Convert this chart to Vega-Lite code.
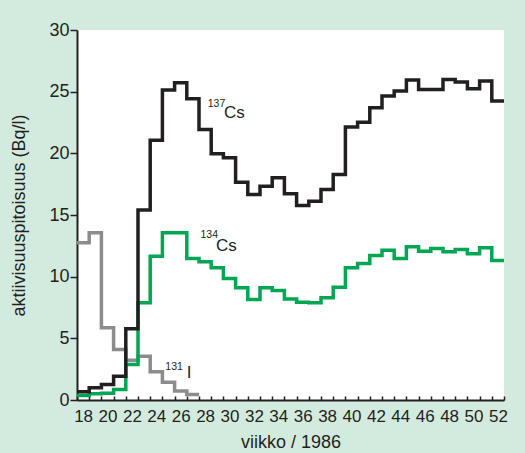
{
  "$schema": "https://vega.github.io/schema/vega-lite/v6.json",
  "width": 427,
  "height": 370,
  "autosize": {"type": "none"},
  "padding": {"left": 77, "top": 30, "right": 21, "bottom": 53},
  "background": "#d3ebde",
  "config": {"view": {"fill": "white", "stroke": null}, "font": "Liberation Sans", "axis": {"labelOverlap": false}},
  "datasets": {
    "series": [
      {"series": "I131", "week": 17.5, "value": 12.75},
      {"series": "I131", "week": 18, "value": 12.75},
      {"series": "I131", "week": 19, "value": 13.56},
      {"series": "I131", "week": 20, "value": 5.86},
      {"series": "I131", "week": 21, "value": 4.1},
      {"series": "I131", "week": 22, "value": 3.23},
      {"series": "I131", "week": 23, "value": 3.55},
      {"series": "I131", "week": 24, "value": 2.29},
      {"series": "I131", "week": 25, "value": 1.44},
      {"series": "I131", "week": 26, "value": 0.72},
      {"series": "I131", "week": 27, "value": 0.45},
      {"series": "I131", "week": 27.5, "value": 0.45},
      {"series": "Cs134", "week": 17.5, "value": 0.36},
      {"series": "Cs134", "week": 18, "value": 0.36},
      {"series": "Cs134", "week": 19, "value": 0.5},
      {"series": "Cs134", "week": 20, "value": 0.55},
      {"series": "Cs134", "week": 21, "value": 0.85},
      {"series": "Cs134", "week": 22, "value": 2.88},
      {"series": "Cs134", "week": 23, "value": 7.88},
      {"series": "Cs134", "week": 24, "value": 11.66},
      {"series": "Cs134", "week": 25, "value": 13.56},
      {"series": "Cs134", "week": 26, "value": 13.56},
      {"series": "Cs134", "week": 27, "value": 11.48},
      {"series": "Cs134", "week": 28, "value": 11.21},
      {"series": "Cs134", "week": 29, "value": 10.72},
      {"series": "Cs134", "week": 30, "value": 9.85},
      {"series": "Cs134", "week": 31, "value": 9.1},
      {"series": "Cs134", "week": 32, "value": 8.15},
      {"series": "Cs134", "week": 33, "value": 9.1},
      {"series": "Cs134", "week": 34, "value": 8.87},
      {"series": "Cs134", "week": 35, "value": 8.18},
      {"series": "Cs134", "week": 36, "value": 7.92},
      {"series": "Cs134", "week": 37, "value": 7.88},
      {"series": "Cs134", "week": 38, "value": 8.29},
      {"series": "Cs134", "week": 39, "value": 9.15},
      {"series": "Cs134", "week": 40, "value": 10.72},
      {"series": "Cs134", "week": 41, "value": 11.07},
      {"series": "Cs134", "week": 42, "value": 11.72},
      {"series": "Cs134", "week": 43, "value": 12.15},
      {"series": "Cs134", "week": 44, "value": 11.48},
      {"series": "Cs134", "week": 45, "value": 12.42},
      {"series": "Cs134", "week": 46, "value": 12.07},
      {"series": "Cs134", "week": 47, "value": 12.29},
      {"series": "Cs134", "week": 48, "value": 12.02},
      {"series": "Cs134", "week": 49, "value": 12.2},
      {"series": "Cs134", "week": 50, "value": 11.86},
      {"series": "Cs134", "week": 51, "value": 12.34},
      {"series": "Cs134", "week": 52, "value": 11.31},
      {"series": "Cs134", "week": 52.5, "value": 11.31},
      {"series": "Cs137", "week": 17.5, "value": 0.66},
      {"series": "Cs137", "week": 18, "value": 0.66},
      {"series": "Cs137", "week": 19, "value": 0.99},
      {"series": "Cs137", "week": 20, "value": 1.26},
      {"series": "Cs137", "week": 21, "value": 1.93},
      {"series": "Cs137", "week": 22, "value": 5.77},
      {"series": "Cs137", "week": 23, "value": 15.4},
      {"series": "Cs137", "week": 24, "value": 21.07},
      {"series": "Cs137", "week": 25, "value": 25.13},
      {"series": "Cs137", "week": 26, "value": 25.72},
      {"series": "Cs137", "week": 27, "value": 24.43},
      {"series": "Cs137", "week": 28, "value": 21.94},
      {"series": "Cs137", "week": 29, "value": 19.97},
      {"series": "Cs137", "week": 30, "value": 19.64},
      {"series": "Cs137", "week": 31, "value": 17.66},
      {"series": "Cs137", "week": 32, "value": 16.67},
      {"series": "Cs137", "week": 33, "value": 17.34},
      {"series": "Cs137", "week": 34, "value": 18.02},
      {"series": "Cs137", "week": 35, "value": 16.72},
      {"series": "Cs137", "week": 36, "value": 15.77},
      {"series": "Cs137", "week": 37, "value": 16.12},
      {"series": "Cs137", "week": 38, "value": 17.07},
      {"series": "Cs137", "week": 39, "value": 18.29},
      {"series": "Cs137", "week": 40, "value": 22.13},
      {"series": "Cs137", "week": 41, "value": 22.53},
      {"series": "Cs137", "week": 42, "value": 23.7},
      {"series": "Cs137", "week": 43, "value": 24.64},
      {"series": "Cs137", "week": 44, "value": 25.05},
      {"series": "Cs137", "week": 45, "value": 25.94},
      {"series": "Cs137", "week": 46, "value": 25.18},
      {"series": "Cs137", "week": 47, "value": 25.18},
      {"series": "Cs137", "week": 48, "value": 25.99},
      {"series": "Cs137", "week": 49, "value": 25.78},
      {"series": "Cs137", "week": 50, "value": 25.24},
      {"series": "Cs137", "week": 51, "value": 25.86},
      {"series": "Cs137", "week": 52, "value": 24.24},
      {"series": "Cs137", "week": 52.5, "value": 24.24}
    ],
    "supers": [
      {"week": 28.22, "value": 23.73, "label": "137"},
      {"week": 27.62, "value": 13.11, "label": "134"},
      {"week": 24.74, "value": 2.43, "label": "131"}
    ],
    "mains": [
      {"week": 29.54, "value": 22.86, "label": "Cs"},
      {"week": 28.9, "value": 12.11, "label": "Cs"},
      {"week": 26.5, "value": 1.76, "label": "I"}
    ]
  },
  "encoding": {
    "x": {
      "field": "week", "type": "quantitative",
      "scale": {"domain": [17.5, 52.5], "nice": false, "zero": false},
      "axis": {
        "title": "viikko / 1986",
        "values": [17.5, 18.5, 19.5, 20.5, 21.5, 22.5, 23.5, 24.5, 25.5, 26.5, 27.5, 28.5, 29.5, 30.5, 31.5, 32.5, 33.5, 34.5, 35.5, 36.5, 37.5, 38.5, 39.5, 40.5, 41.5, 42.5, 43.5, 44.5, 45.5, 46.5, 47.5, 48.5, 49.5, 50.5, 51.5, 52.5],
        "labelExpr": "(datum.value - 17.5) % 2 == 0 ? format(datum.value + 0.5, 'd') : ''",
        "labelOffset": 6.1,
        "labelOverlap": false,
        "labelFlush": false,
        "labelBound": false,
        "grid": false,
        "tickSize": -4,
        "tickWidth": 1.5,
        "tickColor": "#231f20",
        "domainColor": "#231f20",
        "domainWidth": 2,
        "labelFontSize": 17,
        "labelColor": "#231f20",
        "labelPadding": 12,
        "titleFontSize": 18,
        "titleFontWeight": "normal",
        "titleColor": "#231f20",
        "titlePadding": 9
      }
    },
    "y": {
      "field": "value", "type": "quantitative",
      "scale": {"domain": [0, 30], "nice": false},
      "axis": {
        "title": "aktiivisuuspitoisuus (Bq/l)",
        "values": [0, 5, 10, 15, 20, 25, 30],
        "grid": false,
        "tickSize": 7,
        "tickWidth": 1.5,
        "tickColor": "#231f20",
        "domainColor": "#231f20",
        "domainWidth": 2,
        "labelFontSize": 18,
        "labelColor": "#231f20",
        "labelPadding": 1,
        "titleFontSize": 18,
        "titleFontWeight": "normal",
        "titleColor": "#231f20",
        "titlePadding": 20
      }
    }
  },
  "layer": [
    {
      "data": {"name": "series"},
      "mark": {"type": "line", "interpolate": "step", "strokeWidth": 3.5, "strokeJoin": "miter", "strokeCap": "butt"},
      "encoding": {
        "color": {
          "field": "series", "type": "nominal",
          "scale": {"domain": ["I131", "Cs134", "Cs137"], "range": ["#8c8c8e", "#00a651", "#231f20"]},
          "legend": null
        }
      }
    },
    {
      "data": {"name": "supers"},
      "mark": {"type": "text", "align": "left", "baseline": "alphabetic", "fontSize": 10.5, "color": "#231f20"},
      "encoding": {
        "text": {"field": "label"}
      }
    },
    {
      "data": {"name": "mains"},
      "mark": {"type": "text", "align": "left", "baseline": "alphabetic", "fontSize": 17, "color": "#231f20"},
      "encoding": {
        "text": {"field": "label"}
      }
    }
  ]
}
